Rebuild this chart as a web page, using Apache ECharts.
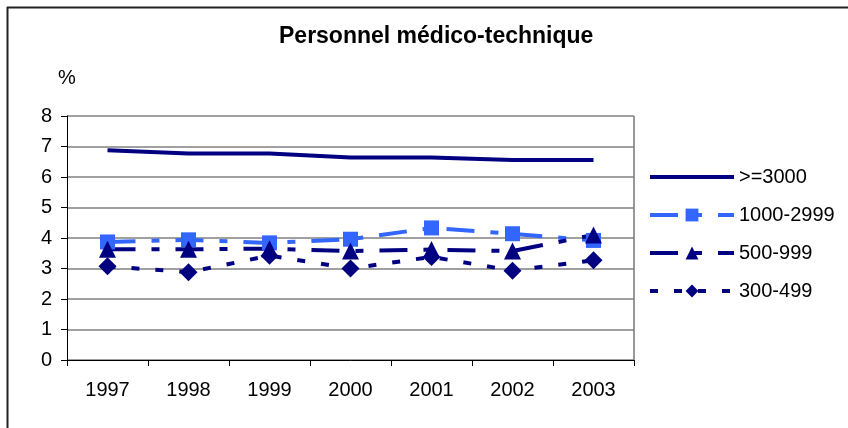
<!DOCTYPE html>
<html>
<head>
<meta charset="utf-8">
<script src="https://cdn.jsdelivr.net/npm/echarts@6/dist/echarts.min.js"></script>
<style>
  html, body { margin: 0; padding: 0; background: #fff; }
  #chart { width: 848px; height: 428px; }
</style>
</head>
<body>
<div id="chart"></div>
<script>
// données
var years = ['1997', '1998', '1999', '2000', '2001', '2002', '2003'];
var s3000 = [6.88, 6.77, 6.77, 6.64, 6.64, 6.56, 6.56];
var s1000 = [3.87, 3.94, 3.84, 3.96, 4.33, 4.14, 3.92];
var s500 = [3.63, 3.63, 3.65, 3.57, 3.62, 3.57, 4.1];
var s300 = [3.07, 2.88, 3.42, 3.0, 3.38, 2.93, 3.27];
var yTicks = [0, 8, 1]; // min, max, interval

var navy = '#000080';
var lightBlue = '#3366FF';
var font = 'Liberation Sans, Arial, sans-serif';
var longDashDot = [28, 16, 8, 16];
var shortDash = [8, 16];

var chart = echarts.init(document.getElementById('chart'));

function serie(name, data, color, symbol, size, dash) {
    return {
        name: name,
        type: 'line',
        data: data,
        symbol: symbol,
        symbolSize: size,
        showSymbol: symbol !== 'none',
        itemStyle: {color: color},
        lineStyle: {color: color, width: 4, type: dash},
        animation: false
    };
}

var option = {
    animation: false,
    title: {
        text: 'Personnel médico-technique',
        left: 274,
        top: 20,
        textStyle: {fontFamily: font, fontSize: 23, fontWeight: 'bold', color: '#000'}
    },
    legend: {
        orient: 'vertical',
        left: 643,
        top: 162,
        itemWidth: 84,
        itemHeight: 16,
        itemGap: 18,
        textStyle: {fontFamily: font, fontSize: 20, color: '#000'},
        data: [
            {name: '>=3000', itemStyle: {opacity: 0}, lineStyle: {width: 4}},
            {name: '1000-2999', lineStyle: {width: 4}},
            {name: '500-999', lineStyle: {width: 4}},
            {name: '300-499', lineStyle: {width: 4}}
        ]
    },
    grid: {left: 67, right: 214, top: 116, bottom: 68},
    xAxis: {
        type: 'category',
        data: years,
        boundaryGap: true,
        axisLine: {lineStyle: {color: '#000', width: 1}},
        axisTick: {show: true, inside: false, length: 6, lineStyle: {color: '#000'}},
        axisLabel: {fontFamily: font, fontSize: 20, color: '#000', margin: 20},
        splitLine: {show: false}
    },
    yAxis: {
        type: 'value',
        name: '%',
        nameLocation: 'end',
        nameGap: 28,
        nameTextStyle: {fontFamily: font, fontSize: 20, color: '#000', align: 'center'},
        min: yTicks[0],
        max: yTicks[1],
        interval: yTicks[2],
        axisLine: {show: true, lineStyle: {color: '#000', width: 1}},
        axisTick: {show: true, length: 6, lineStyle: {color: '#000'}},
        axisLabel: {fontFamily: font, fontSize: 20, color: '#000', margin: 15},
        splitLine: {show: true, lineStyle: {color: '#808080', width: 1.5}}
    },
    graphic: [
        {type: 'line', shape: {x1: 7, y1: 7.5, x2: 848, y2: 7.5}, style: {stroke: '#222', lineWidth: 2}},
        {type: 'line', shape: {x1: 7.5, y1: 7, x2: 7.5, y2: 428}, style: {stroke: '#222', lineWidth: 2}},
        {type: 'line', shape: {x1: 634, y1: 116, x2: 634, y2: 360}, style: {stroke: '#999', lineWidth: 2}}
    ],
    series: [
        serie('>=3000', s3000, navy, 'none', 0, 'solid'),
        serie('1000-2999', s1000, lightBlue, 'rect', 15, longDashDot),
        serie('500-999', s500, navy, 'triangle', 17, longDashDot),
        serie('300-499', s300, navy, 'diamond', 18, shortDash)
    ]
};

chart.setOption(option);
</script>
</body>
</html>
